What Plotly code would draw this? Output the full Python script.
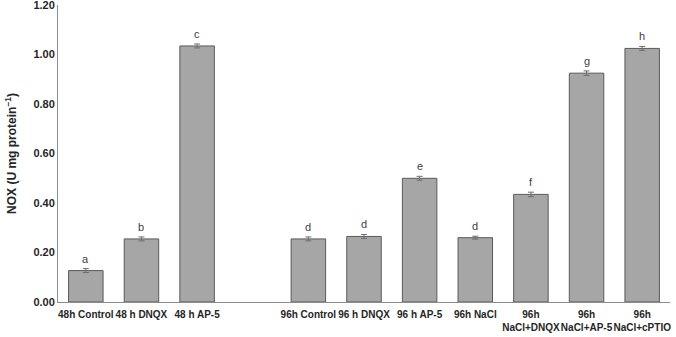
import plotly.graph_objects as go

categories = ["48h Control", "48 h DNQX", "48 h AP-5", " ",
              "96h Control", "96 h DNQX", "96 h AP-5", "96h NaCl",
              "96h<br>NaCl+DNQX", "96h<br>NaCl+AP-5", "96h<br>NaCl+cPTIO"]
values = [0.127, 0.255, 1.035, None, 0.255, 0.265, 0.500, 0.260, 0.435, 0.925, 1.025]
errors = [0.008, 0.008, 0.008, None, 0.008, 0.008, 0.008, 0.006, 0.009, 0.009, 0.008]
letters = ["a", "b", "c", "", "d", "d", "e", "d", "f", "g", "h"]
y_ticks = [0.0, 0.2, 0.4, 0.6, 0.8, 1.0, 1.2]

fig = go.Figure()
fig.add_trace(go.Bar(
    x=categories, y=values,
    width=0.62,
    marker=dict(color="#A6A6A6", line=dict(color="#5A5A5A", width=1)),
    error_y=dict(type="data", array=errors, visible=True, color="#6E6E6E",
                 thickness=1, width=3),
    showlegend=False,
))

for c, v, e, t in zip(categories, values, errors, letters):
    if v is None or not t:
        continue
    fig.add_annotation(x=c, y=v + e, text=t, showarrow=False,
                       yanchor="bottom", yshift=2,
                       font=dict(family="Liberation Sans", size=11, color="#404040"))

fig.update_layout(
    width=676, height=337,
    margin=dict(l=58, r=6, t=5, b=35, autoexpand=False),
    paper_bgcolor="white", plot_bgcolor="white",
    font=dict(family="Liberation Sans", color="#262626"),
)
fig.update_xaxes(
    type="category", categoryorder="array", categoryarray=categories,
    showline=True, linecolor="#8C8C8C", linewidth=1,
    ticks="", tickangle=0, automargin=False, ticklabelstandoff=3,
    tickfont=dict(family="Liberation Sans", size=10, color="#262626", weight="bold"),
    showgrid=False,
)
fig.update_yaxes(
    range=[0, 1.2005], tickvals=y_ticks, tickformat=".2f",
    showline=True, linecolor="#8C8C8C", linewidth=1, automargin=False,
    ticks="", showgrid=False, zeroline=False, ticklabeloverflow="allow",
    tickfont=dict(family="Liberation Sans", size=11, color="#262626", weight="bold"),
    title=dict(text="NOX (U mg protein<sup>−1</sup>)",
               font=dict(family="Liberation Sans", size=12, color="#262626",
                         weight="bold"), standoff=14),
)

fig.write_html("out.html", config={"displayModeBar": False},
               post_script="document.body.style.margin='0';")
